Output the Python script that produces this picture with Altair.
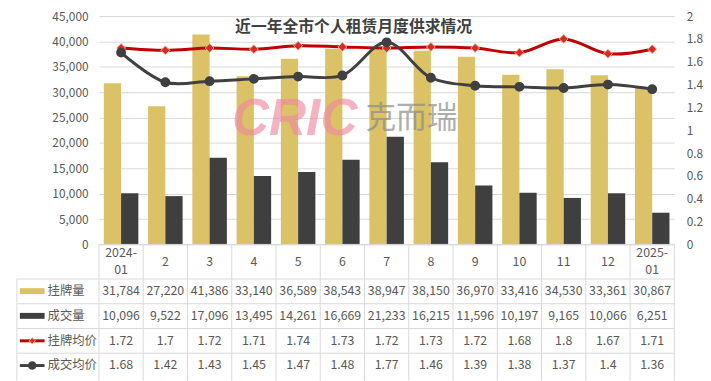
import altair as alt
import pandas as pd

FONT = "Noto Sans CJK SC"
TEXT_COLOR = "#595959"
GRID_COLOR = "#d9d9d9"

# ---------------- data ----------------
months = ["2024-01", "2", "3", "4", "5", "6", "7", "8", "9", "10", "11", "12", "2025-01"]
header_labels = ["2024-\n01", "2", "3", "4", "5", "6", "7", "8", "9", "10", "11", "12", "2025-\n01"]
listing_volume = [31784, 27220, 41386, 33140, 36589, 38543, 38947, 38150, 36970, 33416, 34530, 33361, 30867]
deal_volume = [10096, 9522, 17096, 13495, 14261, 16669, 21233, 16215, 11596, 10197, 9165, 10066, 6251]
listing_price = [1.72, 1.7, 1.72, 1.71, 1.74, 1.73, 1.72, 1.73, 1.72, 1.68, 1.8, 1.67, 1.71]
deal_price = [1.68, 1.42, 1.43, 1.45, 1.47, 1.48, 1.77, 1.46, 1.39, 1.38, 1.37, 1.4, 1.36]
bar_series = ["挂牌量", "成交量"]
line_series = ["挂牌均价", "成交均价"]
bar_colors = ["#DBC266", "#3F3F3F"]
line_colors = ["#C00000", "#404040"]
volume_ticks = [0, 5000, 10000, 15000, 20000, 25000, 30000, 35000, 40000, 45000]
price_ticks = [0, 0.2, 0.4, 0.6, 0.8, 1, 1.2, 1.4, 1.6, 1.8, 2]
title_text = "近一年全市个人租赁月度供求情况"
watermark_latin = "CRIC"
watermark_cjk = "克而瑞"

# ---------------- layout constants ----------------
W, H = 582, 231
N = len(months)
COL = W / N          # pixel width of a table column
ROW = 25             # pixel height of a table row
HEAD = 1.4           # header row height in row units
LINE_H = 17.5        # pixel line height of wrapped header labels
LEG_LEFT = -83 / COL
SYM_L, SYM_R = -80 / COL, -55 / COL
SYM_MID = (SYM_L + SYM_R) / 2
LAB_X = -52 / COL

all_series = bar_series + line_series
all_colors = bar_colors + line_colors
color_scale = alt.Scale(domain=all_series, range=all_colors)

# ---------------- main plot ----------------
bars_df = pd.DataFrame({
    "月份": months * 2,
    "系列": [bar_series[0]] * N + [bar_series[1]] * N,
    "数量": listing_volume + deal_volume,
})
red_df = pd.DataFrame({"月份": months, "系列": line_series[0], "均价": listing_price})
gray_df = pd.DataFrame({"月份": months, "系列": line_series[1], "均价": deal_price})

x_main = alt.X("月份:N", sort=months, axis=None,
               scale=alt.Scale(paddingInner=0.22, paddingOuter=0.11))

bars = alt.Chart(bars_df).mark_bar().encode(
    x=x_main,
    xOffset=alt.XOffset("系列:N", sort=bar_series,
                        scale=alt.Scale(paddingInner=0, paddingOuter=0)),
    y=alt.Y("数量:Q", title=None,
            scale=alt.Scale(domain=[0, 45000], nice=False),
            axis=alt.Axis(values=volume_ticks, labelExpr="format(datum.value, ',')",
                          grid=True, gridColor=GRID_COLOR, domain=False, ticks=False,
                          labelPadding=11, labelColor=TEXT_COLOR,
                          labelFontSize=12, labelFont=FONT)),
    color=alt.Color("系列:N", scale=color_scale, legend=None),
)

wm1 = alt.Chart(pd.DataFrame({"t": [watermark_latin]})).mark_text(
    font="Liberation Sans", fontSize=52, fontWeight="bold", fontStyle="italic",
    color="#F08AA0", opacity=0.65, align="center", baseline="middle",
).encode(text="t:N", x=alt.value(198), y=alt.value(104))

wm2 = alt.Chart(pd.DataFrame({"t": [watermark_cjk]})).mark_text(
    font=FONT, fontSize=31, color="#8C8C8C", opacity=0.7,
    align="center", baseline="middle",
).encode(text="t:N", x=alt.value(316), y=alt.value(104))

y_price = alt.Y("均价:Q", title=None,
                scale=alt.Scale(domain=[0, 2], nice=False),
                axis=alt.Axis(orient="right", values=price_ticks,
                              labelExpr="format(datum.value, '~g')",
                              grid=False, domain=False, ticks=False,
                              labelPadding=12, labelColor=TEXT_COLOR,
                              labelFontSize=12, labelFont=FONT))

red_line = alt.Chart(red_df).mark_line(strokeWidth=3, interpolate="catmull-rom").encode(
    x=x_main, y=y_price, color=alt.Color("系列:N", scale=color_scale, legend=None))
red_pts = alt.Chart(red_df).mark_point(
    shape="diamond", filled=True, fill="#D42A2A", stroke="#F4B183",
    strokeWidth=1, size=80, opacity=1).encode(x=x_main, y=y_price)
gray_line = alt.Chart(gray_df).mark_line(strokeWidth=3, interpolate="catmull-rom").encode(
    x=x_main, y=y_price, color=alt.Color("系列:N", scale=color_scale, legend=None))
gray_pts = alt.Chart(gray_df).mark_point(
    shape="circle", filled=True, fill="#404040", stroke="#404040",
    size=64, opacity=1).encode(x=x_main, y=y_price)

price_layer = alt.layer(red_line, red_pts, gray_line, gray_pts)
main_layer = alt.layer(bars, wm1, wm2, price_layer).resolve_scale(y="independent")

# ---------------- data table ----------------
tx_scale = alt.Scale(domain=[0, N], nice=False, zero=False)
ty_scale = alt.Scale(domain=[-H / ROW, 0], reverse=True, nice=False, zero=False)

def fmt(v):
    return f"{v:,}" if isinstance(v, int) else f"{v:g}"

row_values = [listing_volume, deal_volume, listing_price, deal_price]

header_rows = []
for i, lab in enumerate(header_labels):
    parts = lab.split("\n")
    k = len(parts)
    for j, part in enumerate(parts):
        off_px = (j - (k - 1) / 2) * LINE_H
        header_rows.append({"tx": i + 0.5, "ty": HEAD / 2 + off_px / ROW, "label": part})
header_df = pd.DataFrame(header_rows)

cells = []
for r, vals in enumerate(row_values):
    for i, v in enumerate(vals):
        cells.append({"tx": i + 0.5, "ty": HEAD + r + 0.5, "label": fmt(v)})
cells_df = pd.DataFrame(cells)
rowlab_df = pd.DataFrame({
    "tx": [LAB_X] * 4,
    "ty": [HEAD + r + 0.5 for r in range(4)],
    "label": all_series,
})

n_rows = len(all_series)
h_lines = [{"tx": 0, "tx2": N, "ty": 0}] + [
    {"tx": LEG_LEFT, "tx2": N, "ty": HEAD + r} for r in range(n_rows)]
v_lines = [{"tx": i, "ty": 0, "ty2": HEAD + n_rows + 0.1} for i in range(N + 1)] + [
    {"tx": LEG_LEFT, "ty": HEAD, "ty2": HEAD + n_rows + 0.1}]
h_df = pd.DataFrame(h_lines)
v_df = pd.DataFrame(v_lines)

tx = alt.X("tx:Q", scale=tx_scale, axis=None)
ty = alt.Y("ty:Q", scale=ty_scale, axis=None)

rules_h = alt.Chart(h_df).mark_rule(color=GRID_COLOR, strokeWidth=1).encode(
    x=tx, x2="tx2:Q", y=ty)
rules_v = alt.Chart(v_df).mark_rule(color=GRID_COLOR, strokeWidth=1).encode(
    x=tx, y=ty, y2="ty2:Q")

text_style = dict(font=FONT, fontSize=12.5, color=TEXT_COLOR, baseline="middle")
header_text = alt.Chart(header_df).mark_text(align="center", **text_style).encode(
    x=tx, y=ty, text="label:N")
cell_text = alt.Chart(cells_df).mark_text(align="center", **text_style).encode(
    x=tx, y=ty, text="label:N")
rowlab_text = alt.Chart(rowlab_df).mark_text(align="left", **text_style).encode(
    x=tx, y=ty, text="label:N")

sym_rect_df = pd.DataFrame({
    "tx": [SYM_L] * 2, "tx2": [SYM_R] * 2,
    "ty": [HEAD + r + 0.5 - 0.13 for r in range(2)],
    "ty2": [HEAD + r + 0.5 + 0.11 for r in range(2)],
    "系列": bar_series,
})
sym_line_df = pd.DataFrame({
    "tx": [SYM_L] * 2, "tx2": [SYM_R] * 2,
    "ty": [HEAD + 2 + r + 0.5 for r in range(2)],
    "系列": line_series,
})
sym_rect = alt.Chart(sym_rect_df).mark_rect().encode(
    x=tx, x2="tx2:Q", y=ty, y2="ty2:Q",
    color=alt.Color("系列:N", scale=color_scale, legend=None))
sym_line = alt.Chart(sym_line_df).mark_rule(strokeWidth=3).encode(
    x=tx, x2="tx2:Q", y=ty,
    color=alt.Color("系列:N", scale=color_scale, legend=None))
sym_diamond = alt.Chart(sym_line_df.iloc[[0]].assign(tx=SYM_MID)).mark_point(
    shape="diamond", filled=True, fill="#D42A2A", stroke="#F4B183",
    strokeWidth=1, size=40, opacity=1).encode(x=tx, y=ty)
sym_circle = alt.Chart(sym_line_df.iloc[[1]].assign(tx=SYM_MID)).mark_point(
    shape="circle", filled=True, fill="#404040", stroke="#404040",
    size=45, opacity=1).encode(x=tx, y=ty)

table_layer = alt.layer(rules_h, rules_v, header_text, cell_text, rowlab_text,
                        sym_rect, sym_line, sym_diamond, sym_circle)

chart = alt.layer(main_layer, table_layer).resolve_scale(
    x="independent", y="independent"
).properties(
    width=W, height=H,
    padding={"left": 8, "top": 0, "right": 0, "bottom": 0},
    title=alt.TitleParams(title_text, anchor="middle", frame="bounds",
                          offset=-25, dx=-6, fontSize=16, fontWeight="bold",
                          color="#404040", font=FONT),
).configure_view(stroke=None)

chart.save("out.html", embed_options={"renderer": "svg", "actions": False})
